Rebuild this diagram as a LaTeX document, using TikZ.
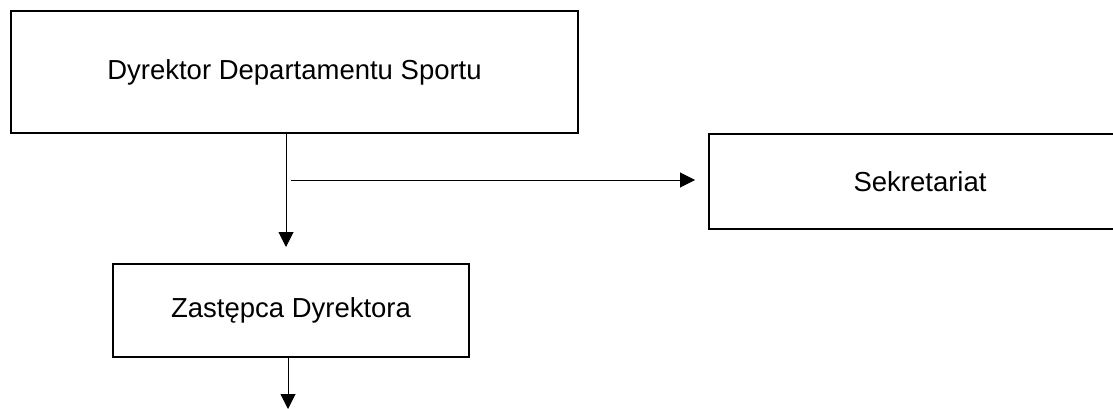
\documentclass[tikz,border=0pt]{standalone}
\usepackage{fontspec}
\setmainfont{Liberation Sans}
\usetikzlibrary{arrows.meta,calc}
\begin{document}
\begin{tikzpicture}[x=1pt,y=-1pt,
  box/.style={draw=black, line width=1.8pt, rectangle, inner sep=0pt, outer sep=0pt,
    font=\fontsize{27.5}{32}\selectfont},
  conn/.style={draw=black, line width=1pt, -{Triangle[width=15pt,length=15pt]}}]
\useasboundingbox (0,0) rectangle (1113,409);
\node[box, minimum width=567pt, minimum height=122pt] (dyr) at (294.5,72) {Dyrektor Departamentu Sportu};
\node[box, minimum width=422pt, minimum height=95pt] (sek) at (920,181.5) {Sekretariat};
\node[box, minimum width=356pt, minimum height=93pt] (zas) at (291,310.5) {Zastępca Dyrektora};
\coordinate (t1) at (286,247);
\coordinate (h0) at (291,180);
\coordinate (h1) at ($(sek.west |- h0)+(-14,0)$);
\coordinate (out) at (288,409);
\draw[conn] (dyr.south -| t1) -- (t1);
\draw[conn] (h0) -- (h1);
\draw[conn] (zas.south -| out) -- (out);
\end{tikzpicture}
\end{document}
